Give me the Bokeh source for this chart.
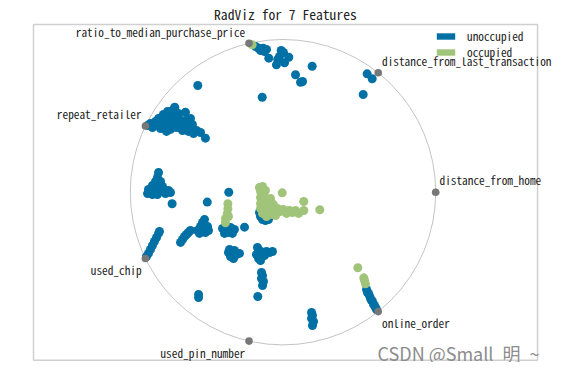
import numpy as np
from bokeh.plotting import figure
from bokeh.models import Range1d, Label, Legend, LegendItem, ColumnDataSource
from bokeh.core.properties import value
from bokeh.embed import file_html
from bokeh.resources import INLINE

features = ["distance_from_home", "distance_from_last_transaction",
            "ratio_to_median_purchase_price", "repeat_retailer",
            "used_chip", "used_pin_number", "online_order"]
classes = ["unoccupied", "occupied"]
class_colors = ["#0070a5", "#a0c47a"]
title_text = "RadViz for 7 Features"
watermark = "CSDN @Small\u2002明\u2002~"

# axes box of the original chart, in data units
box_x = [-1.634, 1.667]
box_y = [-1.100, 1.098]

# RadViz-projected coordinates (unit circle = anchors)
unocc_x = [-0.180, -0.160, -0.130, -0.108, -0.147, -0.121, -0.012, 0.003, 0.038, -0.034,
           -0.093, -0.043, 0.010, -0.023, 0.191, 0.082, 0.115, 0.128, -0.558, -0.136,
           0.551, 0.584, 0.525,
           -0.887, -0.868, -0.855, -0.835, -0.828, -0.815, -0.802, -0.802, -0.783, -0.776,
           -0.770, -0.756, -0.750, -0.737, -0.737, -0.724, -0.709, -0.711, -0.704, -0.697,
           -0.684, -0.678, -0.671, -0.658, -0.639, -0.639, -0.632, -0.619, -0.606, -0.593,
           -0.586, -0.566, -0.540, -0.508, -0.789, -0.763,
           -0.815, -0.822, -0.835, -0.802, -0.855, -0.822, -0.789, -0.881, -0.848, -0.815,
           -0.783, -0.750, -0.887, -0.855, -0.822, -0.770, -0.737, -0.726, -0.496, -0.355,
           -0.894, -0.881, -0.868, -0.855, -0.842, -0.828, -0.815, -0.809,
           -0.671, -0.658, -0.645, -0.632, -0.619, -0.606,
           -0.560, -0.540, -0.527, -0.514, -0.521, -0.494, -0.547, -0.508, -0.488,
           -0.396, -0.377, -0.357, -0.337, -0.318, -0.370, -0.344, -0.383, -0.331, -0.252,
           -0.147, -0.134, -0.115, -0.154, -0.128, -0.095,
           -0.357, -0.344, -0.324, -0.305, -0.285, -0.350, -0.318,
           -0.167, -0.154, -0.174, -0.160, -0.141, -0.128, -0.108, -0.088, -0.069, -0.121, -0.147,
           -0.141, -0.134, -0.141, -0.128, -0.134, -0.165, -0.553, -0.553,
           0.187, 0.193, 0.187, 0.200, 0.193,
           0.547, 0.553, 0.560, 0.566, 0.573, 0.580, 0.586, 0.593, 0.599, 0.606, 0.612]
unocc_y = [0.954, 0.943, 0.943, 0.935, 0.928, 0.921, 0.928, 0.915, 0.884, 0.869,
           0.878, 0.834, 0.847, 0.889, 0.825, 0.769, 0.720, 0.725, 0.699, 0.622,
           0.775, 0.743, 0.640,
           0.437, 0.450, 0.424, 0.463, 0.437, 0.483, 0.456, 0.417, 0.509, 0.470,
           0.430, 0.529, 0.483, 0.450, 0.411, 0.535, 0.557, 0.502, 0.463, 0.424,
           0.515, 0.476, 0.437, 0.404, 0.524, 0.470, 0.424, 0.398, 0.483, 0.443,
           0.384, 0.404, 0.391, 0.354, 0.443, 0.398,
           0.129, 0.096, 0.070, 0.070, 0.044, 0.044, 0.037, 0.018, 0.011, 0.011,
           0.011, 0.011, -0.009, -0.015, -0.015, -0.009, -0.002, -0.076, -0.065, 0.000,
           -0.421, -0.401, -0.375, -0.349, -0.323, -0.297, -0.270, -0.257,
           -0.329, -0.310, -0.290, -0.277, -0.264, -0.251,
           -0.251, -0.225, -0.198, -0.179, -0.244, -0.225, -0.270, -0.264, -0.251,
           -0.238, -0.257, -0.264, -0.257, -0.244, -0.225, -0.231, -0.270, -0.270, -0.229,
           -0.159, -0.179, -0.185, -0.133, -0.153, -0.179,
           -0.395, -0.421, -0.434, -0.408, -0.401, -0.375, -0.382,
           -0.362, -0.382, -0.408, -0.434, -0.421, -0.395, -0.388, -0.395, -0.388, -0.415, -0.447,
           -0.526, -0.546, -0.565, -0.585, -0.611, -0.683, -0.670, -0.690,
           -0.788, -0.807, -0.827, -0.847, -0.873,
           -0.637, -0.657, -0.663, -0.677, -0.696, -0.709, -0.716, -0.735, -0.742, -0.755, -0.768]

occ_x = [-0.202,
         -0.361, -0.361, -0.365, -0.377, -0.377, -0.357,
         -0.154, -0.134, -0.147, -0.128, -0.147, -0.134, -0.147, -0.128, -0.147, -0.121,
         -0.134, -0.108, -0.095, -0.102, -0.082, -0.115, -0.075, -0.056, -0.036, -0.016,
         0.003, 0.023, 0.043, 0.062, 0.082, -0.005, 0.136, 0.136, 0.241, 0.102,
         -0.082, -0.049, -0.108, -0.088, -0.062,
         0.490, 0.529, 0.534, 0.540]
occ_y = [0.965,
         -0.076, -0.109, -0.141, -0.174, -0.200, -0.159,
         0.031, 0.037, 0.005, -0.015, -0.035, -0.054, -0.074, -0.094, -0.107, -0.120,
         -0.139, -0.133, -0.107, -0.074, -0.041, 0.011, -0.120, -0.133, -0.107, -0.126,
         -0.113, -0.139, -0.120, -0.133, -0.120, -0.004, -0.061, -0.120, -0.115, -0.139,
         -0.146, -0.153, -0.159, -0.087, -0.081,
         -0.495, -0.561, -0.578, -0.600]

MONO = "'Noto Sans Mono CJK SC', 'DejaVu Sans Mono', monospace"

p = figure(frame_width=557, frame_height=362,
           x_range=Range1d(-1.8500, 1.7976), y_range=Range1d(-1.1153, 1.2554),
           output_backend="svg", toolbar_location=None,
           min_border=0)
p.axis.visible = False
p.grid.visible = False
p.outline_line_color = None
p.background_fill_color = "white"
p.border_fill_color = "white"

# axes box
p.quad(left=[box_x[0]], right=[box_x[1]], bottom=[box_y[0]], top=[box_y[1]],
       fill_color=None, line_color="#d0d0d0", line_width=1.5)

# the unit circle
p.circle(x=[0], y=[0], radius=1, fill_color=None, line_color="#c4c4c4", line_width=1)

# class points
p.scatter(unocc_x, unocc_y, size=9, fill_color=class_colors[0], line_color=None)
p.scatter(occ_x, occ_y, size=9, fill_color=class_colors[1], line_color=None)

# feature anchors
n = len(features)
ang = 2 * np.pi * np.arange(n) / n
ax = np.cos(ang)
ay = np.sin(ang)
p.circle(x=ax, y=ay, radius=0.025, fill_color="#777777", line_color=None)

lx, ly, align, base = [], [], [], []
for x, y in zip(ax, ay):
    if x < 0:
        lx.append(x - 0.025); align.append("right")
    else:
        lx.append(x + 0.025); align.append("left")
    if y < 0:
        ly.append(y - 0.025); base.append("top")
    else:
        ly.append(y + 0.025); base.append("bottom")
src = ColumnDataSource(dict(x=lx, y=ly, t=features, a=align, b=base))
p.text(x="x", y="y", text="t", text_align="a", text_baseline="b", source=src,
       text_font=value(MONO), text_font_size="11.3px", text_color="#222222")

# legend (patch-style entries)
nan = float("nan")
r0 = p.quad(left=[nan], right=[nan], top=[nan], bottom=[nan],
            fill_color=class_colors[0], line_color=None)
r1 = p.quad(left=[nan], right=[nan], top=[nan], bottom=[nan],
            fill_color=class_colors[1], line_color=None)
legend = Legend(items=[LegendItem(label=classes[0], renderers=[r0]),
                       LegendItem(label=classes[1], renderers=[r1])],
                location="top_right", glyph_width=23, glyph_height=8,
                label_text_font=MONO, label_text_font_size="11.3px",
                label_text_color="#222222", label_width=62,
                label_standoff=10, label_height=12, spacing=0, padding=5, margin=28,
                border_line_color=None, background_fill_alpha=0)
p.add_layout(legend)

# title
p.add_layout(Label(x=0.016, y=1.170, text=title_text, text_align="center",
                   text_baseline="middle", text_font=MONO, text_font_size="13.6px",
                   text_color="#222222"))

# watermark
p.add_layout(Label(x=0.619, y=-1.050, text=watermark, text_align="left",
                   text_baseline="alphabetic", text_font="Noto Sans CJK SC",
                   text_font_size="18px", text_color="#8c8c8c"))

open("out.html", "w").write(file_html(p, INLINE))
